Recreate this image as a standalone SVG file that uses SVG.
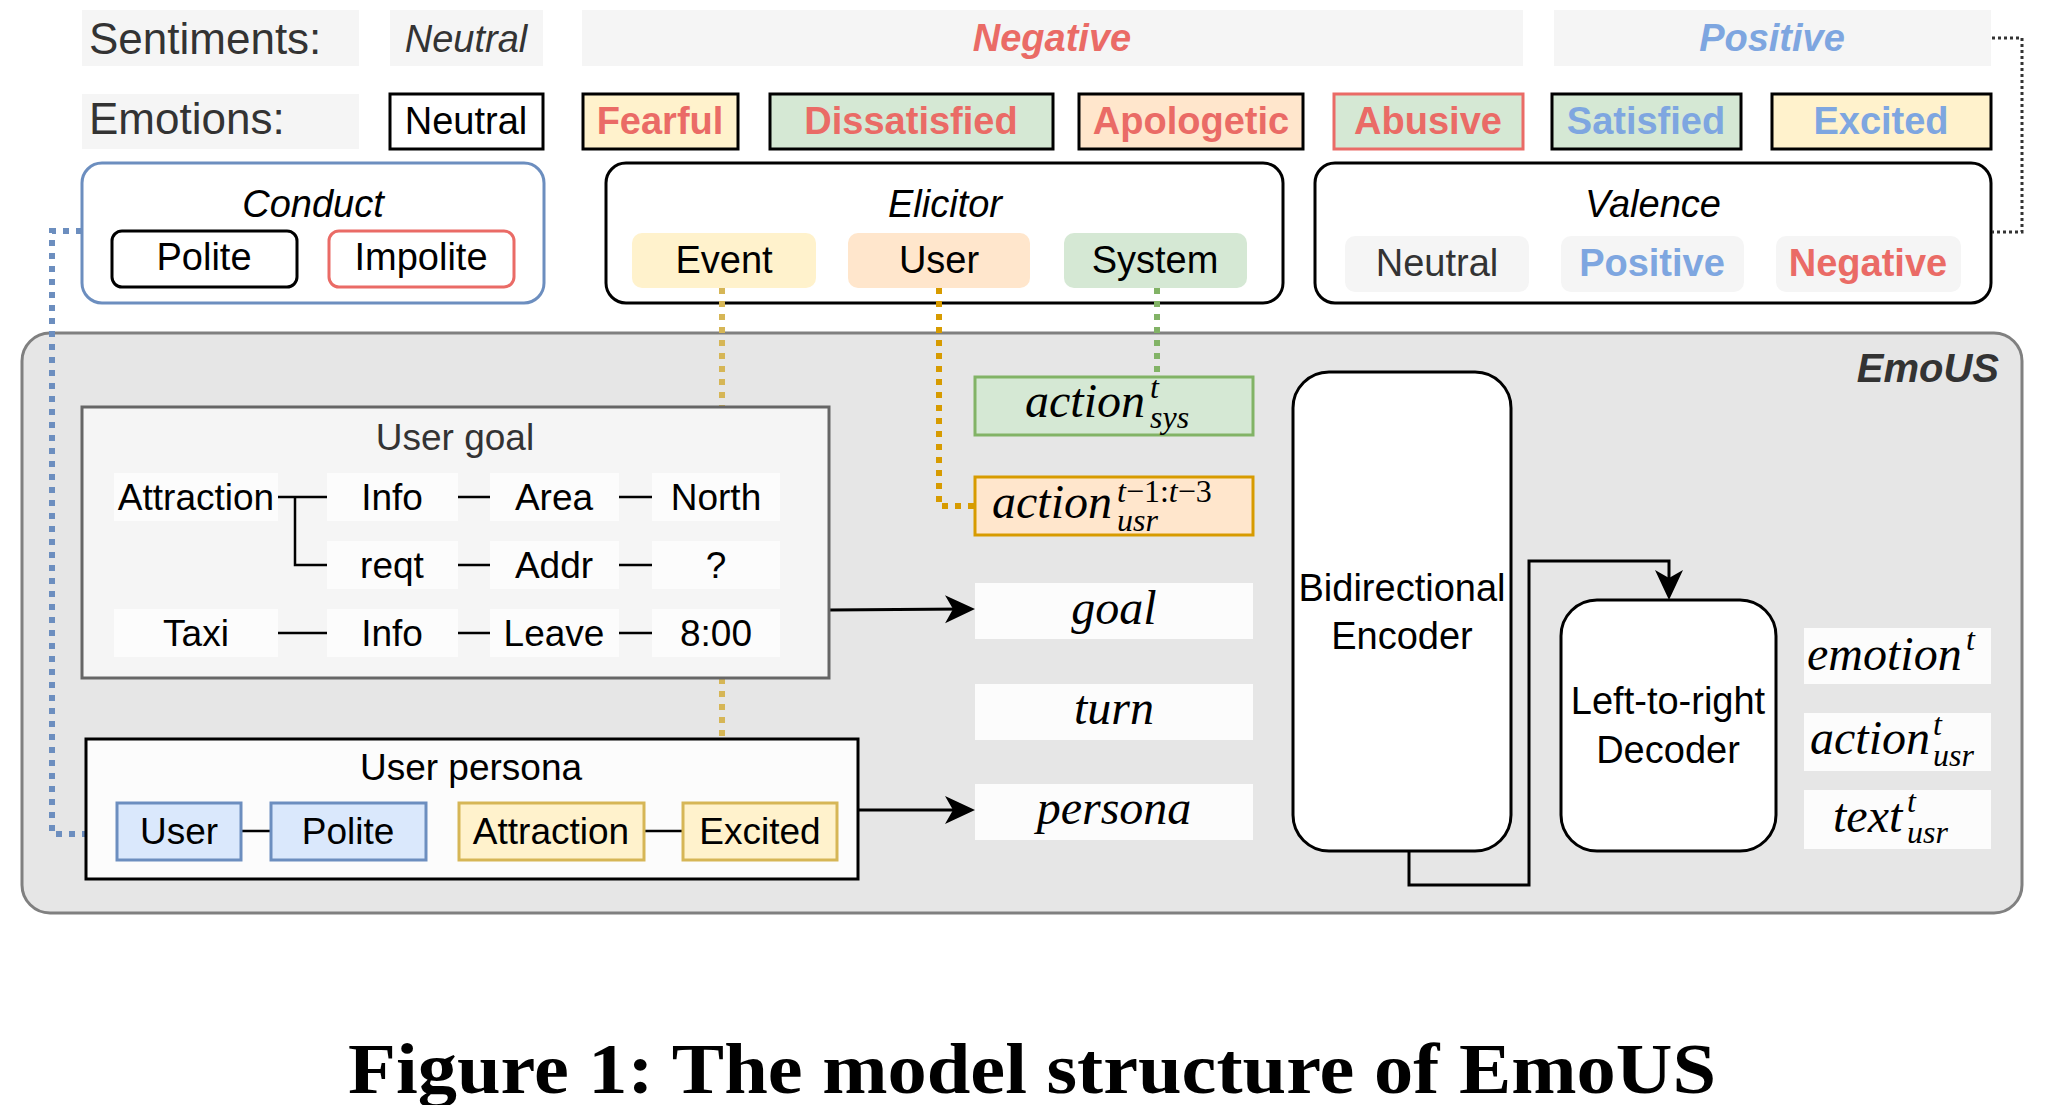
<svg xmlns="http://www.w3.org/2000/svg" width="2048" height="1105" viewBox="0 0 2048 1105">
<defs>
<marker id="arr" markerUnits="userSpaceOnUse" markerWidth="32" markerHeight="30" refX="20" refY="14" orient="auto" viewBox="0 0 32 30">
<path d="M0,0 L30,14 L0,28 L8,14 Z" fill="#000"/>
</marker>
</defs>
<style>
text{font-family:"Liberation Sans",Arial,sans-serif;font-size:38px;text-anchor:middle;fill:#000}
.big{font-size:44px;text-anchor:start;fill:#333}
.it{font-style:italic}
.b{font-weight:bold}
.red{fill:#ea6b66}
.blue{fill:#7ea6e0}
.grey{fill:#333}
.m{font-family:"Liberation Serif","Times New Roman",serif;font-style:italic;font-size:48px;text-anchor:start}
.mc{font-family:"Liberation Serif","Times New Roman",serif;font-style:italic;font-size:48px}
.s{font-size:32px}
.up{font-style:normal}
.g37{font-size:37px}
.lightbox{fill:#f5f5f5;stroke:none}
.item{fill:#fcfcfc;stroke:none}
.k{fill:#fff;stroke:#000;stroke-width:3}
.yel{fill:#fff2cc}
.org{fill:#ffe6cc}
.grn{fill:#d5e8d4}
.blu{fill:#dae8fc}
.ln{fill:none;stroke:#000;stroke-width:3}
.dot{fill:none;stroke-width:6;stroke-dasharray:6 7}
.kdot{fill:none;stroke:#333;stroke-width:3;stroke-dasharray:3 3}
</style>

<g id="sentiments">
<rect class="lightbox" x="82" y="10" width="277" height="56"/>
<text class="big" x="89" y="54">Sentiments:</text>
<rect class="lightbox" x="390" y="10" width="153" height="56"/>
<text class="it grey" x="466" y="52">Neutral</text>
<rect class="lightbox" x="582" y="10" width="941" height="56"/>
<text class="it b red" x="1052" y="51">Negative</text>
<rect class="lightbox" x="1554" y="10" width="437" height="56"/>
<text class="it b blue" x="1772" y="51">Positive</text>
</g>
<g id="emotions">
<rect class="lightbox" x="82" y="94" width="277" height="55"/>
<text class="big" x="89" y="134">Emotions:</text>
<rect class="k" x="390" y="94" width="153" height="55"/>
<text x="466" y="134">Neutral</text>
<rect class="yel" x="583" y="94" width="155" height="55" stroke="#000" stroke-width="3"/>
<text class="b red" x="660" y="134">Fearful</text>
<rect class="grn" x="770" y="94" width="283" height="55" stroke="#000" stroke-width="3"/>
<text class="b red" x="911" y="134">Dissatisfied</text>
<rect class="org" x="1079" y="94" width="224" height="55" stroke="#000" stroke-width="3"/>
<text class="b red" x="1191" y="134">Apologetic</text>
<rect class="grn" x="1334" y="94" width="189" height="55" stroke="#ea6b66" stroke-width="3"/>
<text class="b red" x="1428" y="134">Abusive</text>
<rect class="grn" x="1552" y="94" width="189" height="55" stroke="#000" stroke-width="3"/>
<text class="b blue" x="1646" y="134">Satisfied</text>
<rect class="yel" x="1772" y="94" width="219" height="55" stroke="#000" stroke-width="3"/>
<text class="b blue" x="1881" y="134">Excited</text>
</g>

<g id="conduct">
<rect x="82" y="163" width="462" height="140" rx="20" fill="#fff" stroke="#6c8ebf" stroke-width="3"/>
<text class="it" x="313" y="217">Conduct</text>
<rect class="k" x="112" y="231" width="185" height="56" rx="10"/>
<text x="204" y="270">Polite</text>
<rect x="329" y="231" width="185" height="56" rx="10" fill="#fff" stroke="#ea6b66" stroke-width="3"/>
<text x="421" y="270">Impolite</text>
</g>

<g id="elicitor">
<rect class="k" x="606" y="163" width="677" height="140" rx="20"/>
<text class="it" x="945" y="217">Elicitor</text>
<rect class="yel" x="632" y="233" width="184" height="55" rx="10"/>
<text x="724" y="273">Event</text>
<rect class="org" x="848" y="233" width="182" height="55" rx="10"/>
<text x="939" y="273">User</text>
<rect class="grn" x="1064" y="233" width="183" height="55" rx="10"/>
<text x="1155" y="273">System</text>
</g>

<g id="valence">
<rect class="k" x="1315" y="163" width="676" height="140" rx="20"/>
<text class="it" x="1653" y="217">Valence</text>
<rect class="lightbox" x="1345" y="236" width="184" height="56" rx="10"/>
<text class="grey" x="1437" y="276">Neutral</text>
<rect class="lightbox" x="1561" y="236" width="183" height="56" rx="10"/>
<text class="b blue" x="1652" y="276">Positive</text>
<rect class="lightbox" x="1776" y="236" width="185" height="56" rx="10"/>
<text class="b red" x="1868" y="276">Negative</text>
</g>

<g id="emous">
<rect x="22" y="333" width="2000" height="580" rx="28" fill="#e6e6e6" stroke="#808080" stroke-width="3"/>
<text class="it b grey" x="1999" y="382" style="text-anchor:end;font-size:40px">EmoUS</text>
</g>

<g id="connectors">
<path class="kdot" d="M1992,38 H2022 V232 H1992"/>
<path class="dot" stroke="#6c8ebf" d="M82,231 H52 V834 H117"/>
<path class="dot" stroke="#d6b656" d="M722,288 V803"/>
<path class="dot" stroke="#d79b00" d="M939,288 V506 H975"/>
<path class="dot" stroke="#82b366" d="M1157,288 V377"/>
<path class="ln" d="M829,610 L965,609" marker-end="url(#arr)"/>
<path class="ln" d="M858,810 L965,810" marker-end="url(#arr)"/>
<path class="ln" d="M1409,851 V885 H1529 V561 H1669 V590" marker-end="url(#arr)"/>
</g>

<g id="user-goal">
<rect x="82" y="407" width="747" height="271" fill="#f5f5f5" stroke="#666" stroke-width="3"/>
<text class="g37 grey" x="455" y="450">User goal</text>
<path class="ln" d="M278,497 H327 M458,497 H490 M619,497 H652 M295,497 V565 H327 M458,565 H490 M619,565 H652 M278,633 H327 M458,633 H490 M619,633 H652" style="stroke-width:2.5"/>
<rect class="item" x="114" y="473" width="164" height="48"/>
<rect class="item" x="327" y="473" width="131" height="48"/>
<rect class="item" x="490" y="473" width="129" height="48"/>
<rect class="item" x="652" y="473" width="128" height="48"/>
<rect class="item" x="327" y="541" width="131" height="48"/>
<rect class="item" x="490" y="541" width="129" height="48"/>
<rect class="item" x="652" y="541" width="128" height="48"/>
<rect class="item" x="114" y="609" width="164" height="48"/>
<rect class="item" x="327" y="609" width="131" height="48"/>
<rect class="item" x="490" y="609" width="129" height="48"/>
<rect class="item" x="652" y="609" width="128" height="48"/>
<text class="g37" x="196" y="510">Attraction</text>
<text class="g37" x="392" y="510">Info</text>
<text class="g37" x="554" y="510">Area</text>
<text class="g37" x="716" y="510">North</text>
<text class="g37" x="392" y="578">reqt</text>
<text class="g37" x="554" y="578">Addr</text>
<text class="g37" x="716" y="578">?</text>
<text class="g37" x="196" y="646">Taxi</text>
<text class="g37" x="392" y="646">Info</text>
<text class="g37" x="554" y="646">Leave</text>
<text class="g37" x="716" y="646">8:00</text>
</g>

<g id="user-persona">
<rect x="86" y="739" width="772" height="140" fill="#fcfcfc" stroke="#000" stroke-width="3"/>
<text class="g37" x="471" y="780">User persona</text>
<path class="ln" d="M241,831 H271 M644,831 H683" style="stroke-width:2.5"/>
<rect class="blu" x="117" y="803" width="124" height="57" stroke="#6c8ebf" stroke-width="3"/>
<text class="g37" x="179" y="844">User</text>
<rect class="blu" x="271" y="803" width="155" height="57" stroke="#6c8ebf" stroke-width="3"/>
<text class="g37" x="348" y="844">Polite</text>
<rect class="yel" x="459" y="803" width="185" height="57" stroke="#d6b656" stroke-width="3"/>
<text class="g37" x="551" y="844">Attraction</text>
<rect class="yel" x="683" y="803" width="154" height="57" stroke="#d6b656" stroke-width="3"/>
<text class="g37" x="760" y="844">Excited</text>
</g>

<g id="action-sys">
<rect class="grn" x="975" y="377" width="278" height="58" stroke="#82b366" stroke-width="3"/>
<text class="m" x="1025" y="417">action<tspan class="s" x="1150" y="398">t</tspan><tspan class="s" x="1150" y="428">sys</tspan></text>
</g>
<g id="action-usr-hist">
<rect class="org" x="975" y="477" width="278" height="58" stroke="#d79b00" stroke-width="3"/>
<text class="m" x="992" y="518">action<tspan class="s" x="1117" y="502">t<tspan class="up">−1:</tspan>t<tspan class="up">−3</tspan></tspan><tspan class="s" x="1117" y="531">usr</tspan></text>
</g>
<g id="goal">
<rect class="item" x="975" y="583" width="278" height="56"/>
<text class="mc" x="1114" y="624">goal</text>
</g>
<g id="turn">
<rect class="item" x="975" y="684" width="278" height="56"/>
<text class="mc" x="1114" y="724">turn</text>
</g>
<g id="persona">
<rect class="item" x="975" y="784" width="278" height="56"/>
<text class="mc" x="1114" y="824">persona</text>
</g>

<g id="encoder">
<rect class="k" x="1293" y="372" width="218" height="479" rx="36"/>
<text x="1402" y="601">Bidirectional</text>
<text x="1402" y="649">Encoder</text>
</g>
<g id="decoder">
<rect class="k" x="1561" y="600" width="215" height="251" rx="36"/>
<text x="1668" y="714">Left-to-right</text>
<text x="1668" y="763">Decoder</text>
</g>

<g id="out-emotion">
<rect class="item" x="1804" y="628" width="187" height="56"/>
<text class="m" x="1807" y="670">emotion<tspan class="s" x="1966" y="650">t</tspan></text>
</g>
<g id="out-action">
<rect class="item" x="1804" y="713" width="187" height="58"/>
<text class="m" x="1810" y="754">action<tspan class="s" x="1933" y="735">t</tspan><tspan class="s" x="1933" y="766">usr</tspan></text>
</g>
<g id="out-text">
<rect class="item" x="1804" y="790" width="187" height="59"/>
<text class="m" x="1833" y="832">text<tspan class="s" x="1907" y="812">t</tspan><tspan class="s" x="1907" y="843">usr</tspan></text>
</g>

<text x="1032" y="1093" textLength="1368" lengthAdjust="spacingAndGlyphs" style="font-family:'Liberation Serif','Times New Roman',serif;font-weight:bold;font-size:72px">Figure 1: The model structure of EmoUS</text>
</svg>
